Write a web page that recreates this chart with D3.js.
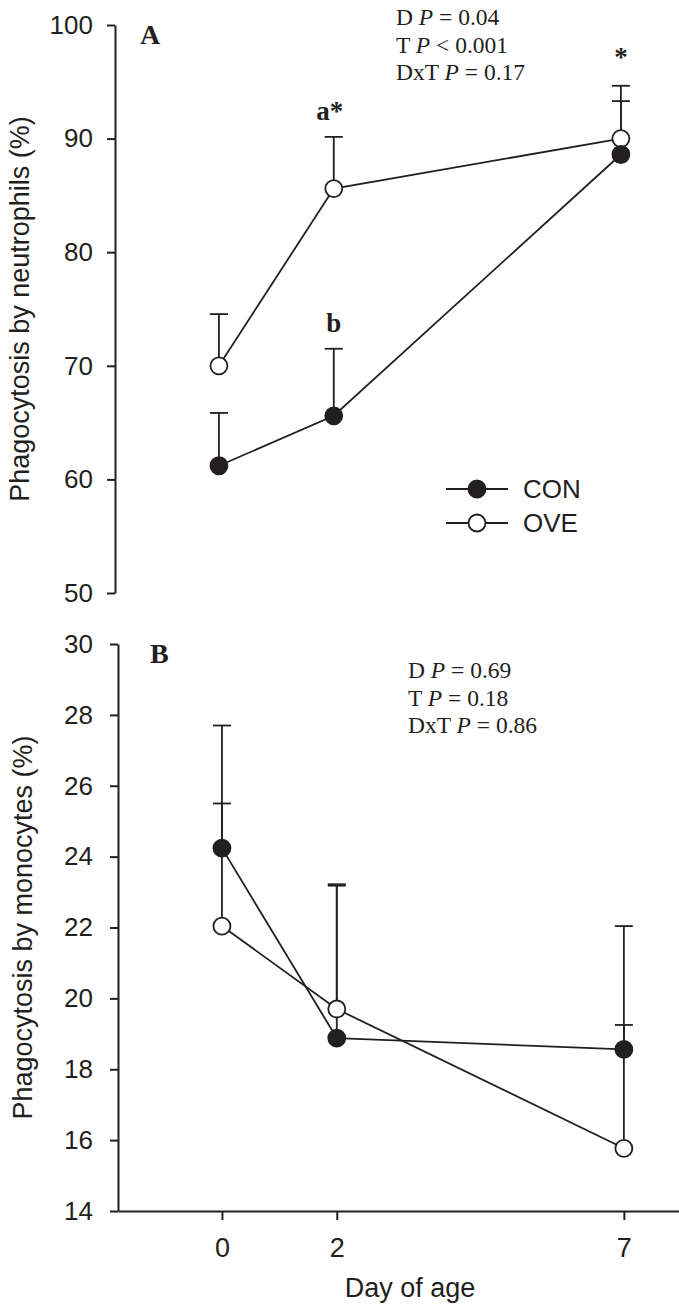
<!DOCTYPE html>
<html>
<head>
<meta charset="utf-8">
<script src="https://cdn.jsdelivr.net/npm/d3@7/dist/d3.min.js"></script>
<style>
  body { margin: 0; background: #fff; }
  svg { display: block; }
  .axis path, .axis line { stroke: #231f20; stroke-width: 2px; }
  .axis text { font-family: 'Liberation Sans', Arial, sans-serif; font-size: 26px; fill: #231f20; }
</style>
</head>
<body>
<script>
//============================================================
// Data
//------------------------------------------------------------

var days = [0, 2, 7];

// panel A: phagocytosis by neutrophils (%), mean and upper SE
var neutCon = [61.2, 65.6, 88.6]
  , neutConSe = [4.65, 5.9, 4.7]
  , neutOve = [70.0, 85.6, 90.0]
  , neutOveSe = [4.55, 4.55, 4.65]
  ;

// panel B: phagocytosis by monocytes (%)
var monoCon = [24.24, 18.88, 18.56]
  , monoConSe = [3.46, 4.3, 0.69]
  , monoOve = [22.04, 19.7, 15.77]
  , monoOveSe = [3.46, 3.52, 6.27]
  ;

var neutTicks = [50, 60, 70, 80, 90, 100]
  , monoTicks = [14, 16, 18, 20, 22, 24, 26, 28, 30]
  ;

var statsA = [['D', '= 0.04'], ['T', '< 0.001'], ['DxT', '= 0.17']]
  , statsB = [['D', '= 0.69'], ['T', '= 0.18'], ['DxT', '= 0.86']]
  ;

// significance letters: text, day, series they sit above
var sigText = ['a*', 'b', '*']
  , sigDay = [2, 2, 7]
  , sigSeries = ['OVE', 'CON', 'OVE']
  ;

var seriesNames = ['CON', 'OVE'];

//============================================================

var ink = '#231f20'
  , width = 679
  , height = 1304
  ;

var svg = d3.select('body').append('svg')
    .attr('width', width)
    .attr('height', height);

var x = d3.scaleLinear().domain([-1.81, 7.96]).range([118, 679]);

function panel(opts) {
  var g = svg.append('g').attr('transform', 'translate(' + opts.dx + ',0)');
  var y = d3.scaleLinear().domain(opts.domain).range(opts.range);

  // y axis
  g.append('g')
      .attr('class', 'axis')
      .attr('transform', 'translate(' + x.range()[0] + ',0)')
      .call(d3.axisLeft(y).tickValues(opts.ticks).tickSize(8).tickSizeOuter(0).tickPadding(opts.pad));

  if (opts.xAxis) {
    var xa = g.append('g')
        .attr('class', 'axis')
        .attr('transform', 'translate(0,' + opts.range[0] + ')')
        .call(d3.axisBottom(x).tickValues(days).tickSize(9).tickSizeOuter(0).tickPadding(18));
    xa.selectAll('text').style('font-size', '27px');
    g.append('text')
        .attr('x', 410)
        .attr('y', 1297)
        .attr('text-anchor', 'middle')
        .style('font-family', "'Liberation Sans', Arial, sans-serif")
        .style('font-size', '27px')
        .attr('fill', ink)
        .text('Day of age');
  }

  // y label
  g.append('text')
      .attr('transform', 'translate(32,' + ((opts.range[0] + opts.range[1]) / 2) + ') rotate(-90)')
      .attr('text-anchor', 'middle')
      .style('font-family', "'Liberation Sans', Arial, sans-serif")
      .style('font-size', '27px')
      .attr('fill', ink)
      .text(opts.label);

  // panel letter
  g.append('text')
      .attr('x', opts.letterX)
      .attr('y', opts.range[1] + 19)
      .style('font-family', "'Liberation Serif', 'Times New Roman', serif")
      .style('font-weight', 'bold')
      .style('font-size', '28px')
      .attr('fill', ink)
      .text(opts.letter);

  // stats block
  var st = g.append('g').selectAll('text')
      .data(opts.stats)
    .enter().append('text')
      .attr('x', opts.statX)
      .attr('y', function (d, i) { return opts.statY + i * 27.5; })
      .style('font-family', "'Liberation Serif', 'Times New Roman', serif")
      .style('font-size', '23.5px')
      .attr('fill', ink);
  st.append('tspan').text(function (d) { return d[0] + ' '; });
  st.append('tspan').style('font-style', 'italic').text('P');
  st.append('tspan').text(function (d) { return ' ' + d[1]; });

  var series = [
    { key: 'CON', values: opts.con, se: opts.conSe, fill: ink },
    { key: 'OVE', values: opts.ove, se: opts.oveSe, fill: '#fff' }
  ];

  var line = d3.line()
      .x(function (d, i) { return x(days[i]); })
      .y(function (d) { return y(d); });

  // connecting lines
  g.selectAll('path.nv-line')
      .data(series)
    .enter().append('path')
      .attr('class', 'nv-line')
      .attr('d', function (d) { return line(d.values); })
      .attr('fill', 'none')
      .attr('stroke', ink)
      .attr('stroke-width', 1.8);

  // upper error bars
  series.forEach(function (s) {
    var eb = g.append('g').selectAll('g')
        .data(s.values)
      .enter().append('g');
    eb.append('line')
        .attr('x1', function (d, i) { return x(days[i]); })
        .attr('x2', function (d, i) { return x(days[i]); })
        .attr('y1', function (d) { return y(d); })
        .attr('y2', function (d, i) { return y(d + s.se[i]); })
        .attr('stroke', ink)
        .attr('stroke-width', 1.8);
    eb.append('line')
        .attr('x1', function (d, i) { return x(days[i]) - 9; })
        .attr('x2', function (d, i) { return x(days[i]) + 9; })
        .attr('y1', function (d, i) { return y(d + s.se[i]); })
        .attr('y2', function (d, i) { return y(d + s.se[i]); })
        .attr('stroke', ink)
        .attr('stroke-width', 1.8);
  });

  // markers, OVE first so CON sits on top
  series.slice().reverse().forEach(function (s) {
    g.append('g').selectAll('circle')
        .data(s.values)
      .enter().append('circle')
        .attr('cx', function (d, i) { return x(days[i]); })
        .attr('cy', function (d) { return y(d); })
        .attr('r', 8.5)
        .attr('fill', s.fill)
        .attr('stroke', ink)
        .attr('stroke-width', 1.8);
  });

  // significance marks
  if (opts.sig) {
    sigText.forEach(function (t, k) {
      var s = series[seriesNames.indexOf(sigSeries[k])]
        , i = days.indexOf(sigDay[k]);
      g.append('text')
          .attr('x', x(days[i]) - (t === 'a*' ? 4 : 0))
          .attr('y', y(s.values[i] + s.se[i]) - (t === '*' ? 20 : 17))
          .attr('text-anchor', 'middle')
          .style('font-family', "'Liberation Serif', 'Times New Roman', serif")
          .style('font-weight', 'bold')
          .style('font-size', '27px')
          .attr('fill', ink)
          .text(t);
    });
  }

  // legend
  if (opts.legend) {
    var lg = g.append('g').selectAll('g')
        .data(series)
      .enter().append('g')
        .attr('transform', function (d, i) { return 'translate(480,' + (489 + i * 34) + ')'; });
    lg.append('line')
        .attr('x1', -31).attr('x2', 31)
        .attr('stroke', ink)
        .attr('stroke-width', 1.8);
    lg.append('circle')
        .attr('r', 8.5)
        .attr('fill', function (d) { return d.fill; })
        .attr('stroke', ink)
        .attr('stroke-width', 1.8);
    lg.append('text')
        .attr('x', 46)
        .attr('dy', '0.36em')
        .style('font-family', "'Liberation Sans', Arial, sans-serif")
        .style('font-size', '26px')
        .attr('fill', ink)
        .text(function (d) { return d.key; });
  }
}

panel({
  dx: -3, domain: [50, 100], range: [593, 25], ticks: neutTicks, pad: 14,
  label: 'Phagocytosis by neutrophils (%)', letter: 'A', letterX: 143,
  stats: statsA, statX: 399, statY: 25,
  con: neutCon, conSe: neutConSe, ove: neutOve, oveSe: neutOveSe,
  sig: true, legend: true, xAxis: false
});

panel({
  dx: 0, domain: [14, 30], range: [1211, 644], ticks: monoTicks, pad: 17,
  label: 'Phagocytosis by monocytes (%)', letter: 'B', letterX: 150,
  stats: statsB, statX: 408, statY: 678,
  con: monoCon, conSe: monoConSe, ove: monoOve, oveSe: monoOveSe,
  sig: false, legend: false, xAxis: true
});
</script>
</body>
</html>
